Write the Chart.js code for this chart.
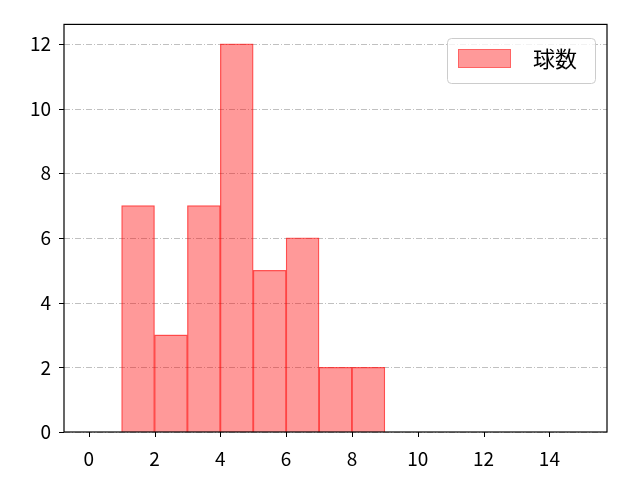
<!DOCTYPE html>
<html><head><meta charset="utf-8">
<script src="https://cdn.jsdelivr.net/npm/chart.js@4/dist/chart.umd.min.js"></script>
<style>html,body{margin:0;padding:0;background:#fff}#w{width:640px;height:480px}</style>
</head><body><div id="w"><canvas id="c" width="640" height="480"></canvas></div>
<script>
const binStarts = [1, 2, 3, 4, 5, 6, 7, 8];
const counts = [7, 3, 7, 12, 5, 6, 2, 2];
const xTicks = [0, 2, 4, 6, 8, 10, 12, 14];
const yTicks = [0, 2, 4, 6, 8, 10, 12];
const seriesName = '球数';
const FONT = '"Noto Sans CJK JP", "DejaVu Sans", sans-serif';

const framePlugin = {
  id: 'frame',
  beforeDatasetsDraw(chart) {
    const {ctx, chartArea: a, scales: {x, y}} = chart;
    ctx.save();
    ctx.strokeStyle = '#b0b0b0';
    ctx.lineWidth = 0.8;
    ctx.setLineDash([6, 2, 1, 2]);
    yTicks.forEach(v => {
      const py = Math.round(y.getPixelForValue(v)) + 0.5;
      ctx.beginPath(); ctx.moveTo(a.left, py); ctx.lineTo(a.right, py); ctx.stroke();
    });
    ctx.restore();
  },
  afterDatasetsDraw(chart) {
    const {ctx, chartArea: a, scales: {x, y}} = chart;
    ctx.save();
    ctx.strokeStyle = '#000';
    ctx.lineWidth = 1.2;
    ctx.strokeRect(a.left, a.top, a.right - a.left, a.bottom - a.top);
    ctx.beginPath();
    xTicks.forEach(v => {
      const px = Math.round(x.getPixelForValue(v)) + 0.5;
      ctx.moveTo(px, a.bottom); ctx.lineTo(px, a.bottom + 5);
    });
    yTicks.forEach(v => {
      const py = Math.round(y.getPixelForValue(v)) + 0.5;
      ctx.moveTo(a.left, py); ctx.lineTo(a.left - 5, py);
    });
    ctx.lineWidth = 1;
    ctx.stroke();
    // legend
    const lx = 447, ly = 38, lw = 148, lh = 45;
    ctx.beginPath();
    ctx.roundRect(lx + 0.5, ly + 0.5, lw, lh, 4);
    ctx.fillStyle = 'rgba(255,255,255,0.8)';
    ctx.fill();
    ctx.strokeStyle = '#cccccc';
    ctx.lineWidth = 1;
    ctx.stroke();
    ctx.fillStyle = 'rgba(255,0,0,0.4)';
    ctx.fillRect(458, 49, 53, 19);
    ctx.strokeStyle = 'rgba(255,0,0,0.35)';
    ctx.strokeRect(458.5, 49.5, 52, 18);
    ctx.fillStyle = '#000';
    ctx.font = '22px ' + FONT;
    ctx.textBaseline = 'middle';
    ctx.fillText(seriesName, 533, 59);
    ctx.restore();
  }
};

new Chart(document.getElementById('c'), {
  type: 'bar',
  data: {
    datasets: [{
      label: seriesName,
      data: binStarts.map((s, i) => ({x: s + 0.5, y: counts[i]})),
      backgroundColor: 'rgba(255,0,0,0.4)',
      borderColor: 'rgba(255,0,0,0.6)',
      borderWidth: 0.6,
      barPercentage: 1,
      categoryPercentage: 1,
      borderSkipped: 'bottom'
    }]
  },
  options: {
    responsive: false,
    animation: false,
    devicePixelRatio: 1,
    layout: {padding: {top: 23, right: 33, left: 0, bottom: 0}},
    plugins: {legend: {display: false}, tooltip: {enabled: false}},
    scales: {
      x: {
        type: 'linear', min: -0.75, max: 15.75, offset: false,
        afterBuildTicks: s => { s.ticks = xTicks.map(v => ({value: v})); },
        afterFit: s => { s.height = 48; },
        grid: {display: false, drawTicks: false},
        border: {display: false},
        ticks: {color: '#000', font: {family: FONT, size: 19}, padding: 15, maxRotation: 0, autoSkip: false}
      },
      y: {
        min: 0, max: 12.6,
        afterBuildTicks: s => { s.ticks = yTicks.map(v => ({value: v})); },
        afterFit: s => { s.width = 64; },
        grid: {display: false, drawTicks: false},
        border: {display: false},
        ticks: {color: '#000', font: {family: FONT, size: 19}, padding: 13, autoSkip: false}
      }
    }
  },
  plugins: [framePlugin]
});
</script></body></html>
